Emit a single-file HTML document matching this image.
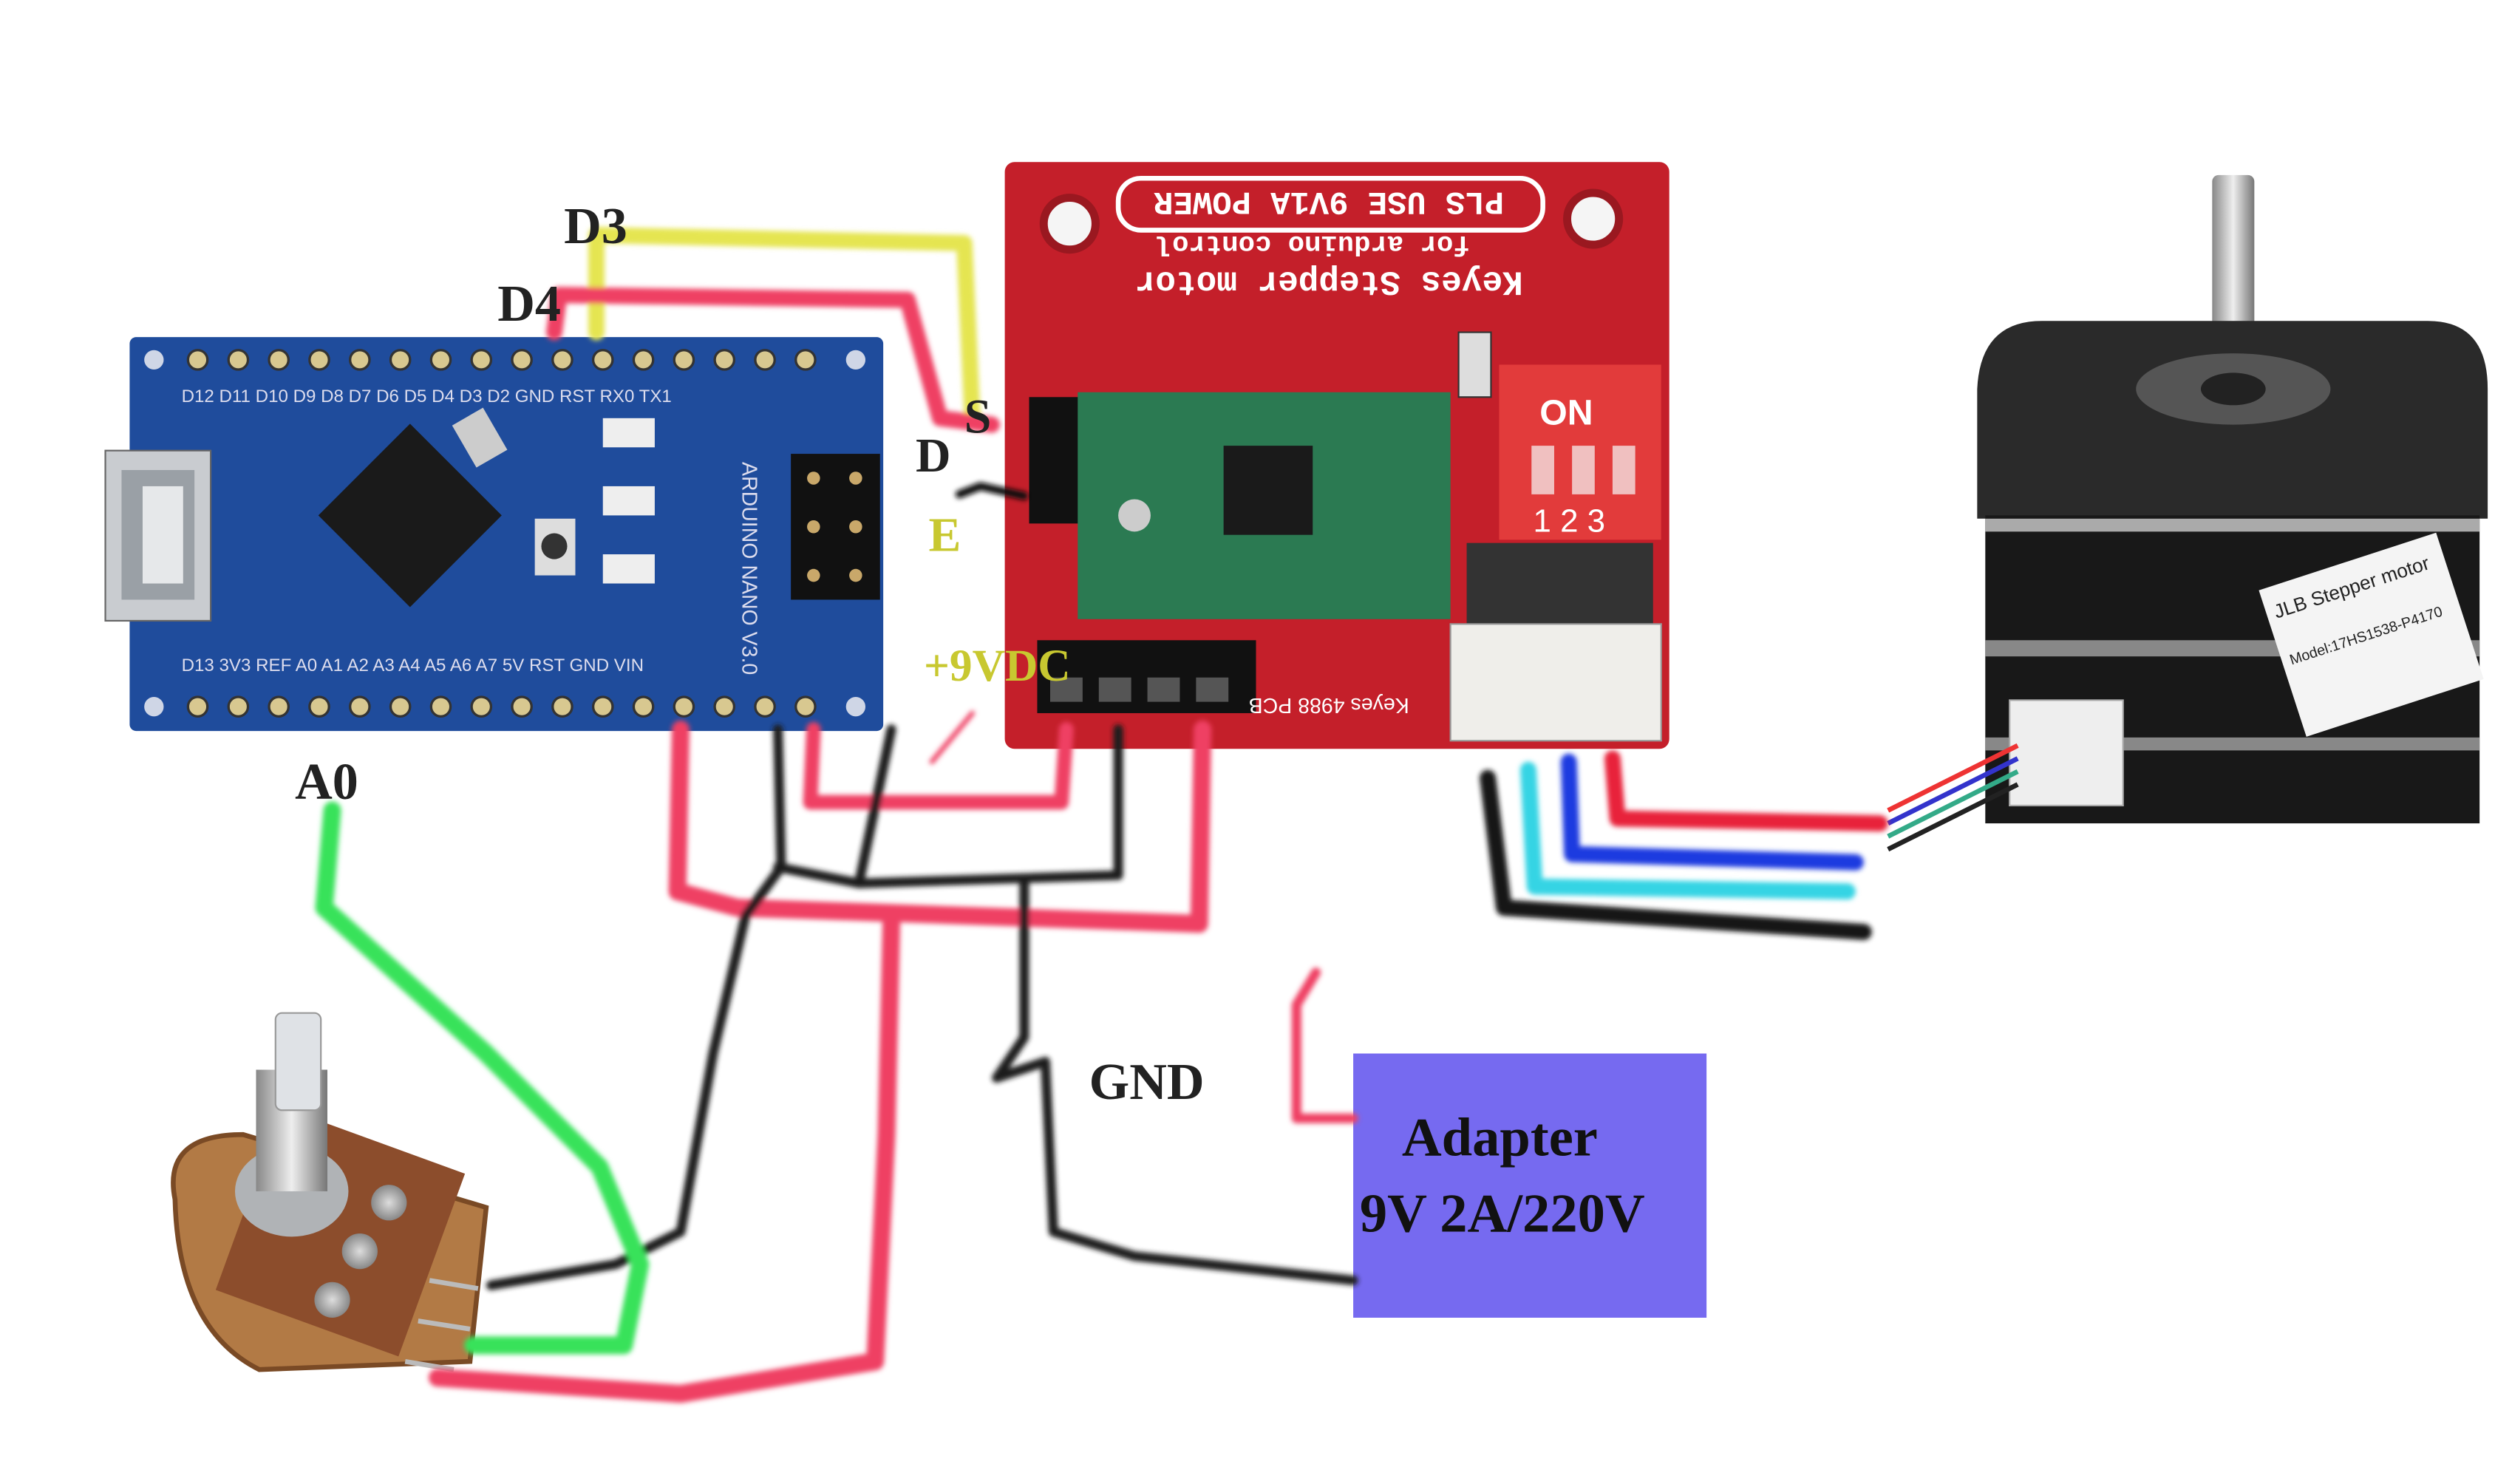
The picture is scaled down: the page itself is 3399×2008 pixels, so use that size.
<!DOCTYPE html>
<html><head><meta charset="utf-8"><style>
html,body{margin:0;padding:0;background:#fff;}
svg{display:block;}
</style></head><body>
<svg width="3399" height="2008" viewBox="0 0 1550 915.6" preserveAspectRatio="none" xmlns="http://www.w3.org/2000/svg">
<defs>
<filter id="bl" x="-10%" y="-10%" width="120%" height="120%"><feGaussianBlur stdDeviation="1.6"/></filter>
<radialGradient id="rg" cx="50%" cy="50%" r="60%"><stop offset="0" stop-color="#ddd"/><stop offset="1" stop-color="#777"/></radialGradient>
<linearGradient id="shaft" x1="0" x2="1"><stop offset="0" stop-color="#888"/><stop offset=".5" stop-color="#eee"/><stop offset="1" stop-color="#777"/></linearGradient>
</defs>
<rect width="1550" height="915.6" fill="#fff"/>

<!-- Arduino Nano -->
<rect x="80" y="208" width="465" height="243" fill="#1f4c9c" rx="4"/>
<g fill="#cfd6e6">
<circle cx="95" cy="222" r="6"/><circle cx="95" cy="436" r="6"/><circle cx="528" cy="222" r="6"/><circle cx="528" cy="436" r="6"/>
</g>
<g fill="#d8c890" stroke="#333" stroke-width="1.5">
<circle cx="122" cy="222" r="6"/><circle cx="147" cy="222" r="6"/><circle cx="172" cy="222" r="6"/><circle cx="197" cy="222" r="6"/><circle cx="222" cy="222" r="6"/><circle cx="247" cy="222" r="6"/><circle cx="272" cy="222" r="6"/><circle cx="297" cy="222" r="6"/><circle cx="322" cy="222" r="6"/><circle cx="347" cy="222" r="6"/><circle cx="372" cy="222" r="6"/><circle cx="397" cy="222" r="6"/><circle cx="422" cy="222" r="6"/><circle cx="447" cy="222" r="6"/><circle cx="472" cy="222" r="6"/><circle cx="497" cy="222" r="6"/>
<circle cx="122" cy="436" r="6"/><circle cx="147" cy="436" r="6"/><circle cx="172" cy="436" r="6"/><circle cx="197" cy="436" r="6"/><circle cx="222" cy="436" r="6"/><circle cx="247" cy="436" r="6"/><circle cx="272" cy="436" r="6"/><circle cx="297" cy="436" r="6"/><circle cx="322" cy="436" r="6"/><circle cx="347" cy="436" r="6"/><circle cx="372" cy="436" r="6"/><circle cx="397" cy="436" r="6"/><circle cx="422" cy="436" r="6"/><circle cx="447" cy="436" r="6"/><circle cx="472" cy="436" r="6"/><circle cx="497" cy="436" r="6"/>
</g>
<g font-family="Liberation Sans, sans-serif" font-size="11" fill="#dde">
<text x="112" y="248">D12 D11 D10  D9  D8  D7  D6  D5  D4  D3  D2 GND RST RX0 TX1</text>
<text x="112" y="414">D13 3V3 REF  A0  A1  A2  A3  A4  A5  A6  A7  5V  RST GND VIN</text>
</g>
<rect x="65" y="278" width="65" height="105" fill="#c9ccd0" stroke="#666"/>
<rect x="75" y="290" width="45" height="80" fill="#9aa0a6"/>
<rect x="88" y="300" width="25" height="60" fill="#e6e8ea"/>
<g transform="rotate(45 253 318)"><rect x="213" y="278" width="80" height="80" fill="#1a1a1a"/></g>
<rect x="330" y="320" width="25" height="35" fill="#ddd"/><circle cx="342" cy="337" r="8" fill="#333"/>
<rect x="285" y="255" width="22" height="30" fill="#ccc" transform="rotate(-30 296 270)"/>
<rect x="372" y="258" width="32" height="18" fill="#eee"/><rect x="372" y="300" width="32" height="18" fill="#eee"/><rect x="372" y="342" width="32" height="18" fill="#eee"/>
<rect x="488" y="280" width="55" height="90" fill="#111"/>
<g fill="#c9a86a"><circle cx="502" cy="295" r="4"/><circle cx="528" cy="295" r="4"/><circle cx="502" cy="325" r="4"/><circle cx="528" cy="325" r="4"/><circle cx="502" cy="355" r="4"/><circle cx="528" cy="355" r="4"/></g>
<text x="458" y="285" font-family="Liberation Sans, sans-serif" font-size="13" fill="#dde" transform="rotate(90 458 285)">ARDUINO NANO V3.0</text>

<!-- Keyes red board -->
<rect x="620" y="100" width="410" height="362" fill="#c41f2a" rx="6"/>
<circle cx="660" cy="138" r="16" fill="#f5f5f5" stroke="#9a1820" stroke-width="5"/>
<circle cx="983" cy="135" r="16" fill="#f5f5f5" stroke="#9a1820" stroke-width="5"/>
<rect x="690" y="110" width="262" height="32" rx="14" fill="none" stroke="#fff" stroke-width="3"/>
<g font-family="Liberation Mono, monospace" fill="#fff" font-weight="bold" text-anchor="middle">
<text x="820" y="126" font-size="20" transform="rotate(180 820 126)" dy="7">PLS USE 9V1A POWER</text>
<text x="810" y="152" font-size="17" transform="rotate(180 810 152)" dy="6">for arduino control</text>
<text x="820" y="175" font-size="21" transform="rotate(180 820 175)" dy="7">Keyes Stepper motor</text>
</g>
<rect x="635" y="245" width="32" height="78" fill="#111"/>
<rect x="665" y="242" width="230" height="140" fill="#2b7a52"/>
<rect x="755" y="275" width="55" height="55" fill="#1a1a1a"/>
<circle cx="700" cy="318" r="10" fill="#ccc"/>
<rect x="925" y="225" width="100" height="108" fill="#e23b3b"/>
<text x="950" y="262" font-family="Liberation Sans, sans-serif" font-size="22" fill="#fff" font-weight="bold">ON</text>
<rect x="945" y="275" width="14" height="30" fill="#f0c0c0"/><rect x="970" y="275" width="14" height="30" fill="#f0c0c0"/><rect x="995" y="275" width="14" height="30" fill="#f0c0c0"/>
<text x="946" y="328" font-family="Liberation Sans, sans-serif" font-size="20" fill="#fff">1 2 3</text>
<rect x="900" y="205" width="20" height="40" fill="#ddd" stroke="#333"/>
<rect x="905" y="335" width="115" height="50" fill="#333"/>
<rect x="895" y="385" width="130" height="72" fill="#efeeea" stroke="#999"/>
<rect x="640" y="395" width="135" height="45" fill="#111"/>
<g fill="#555"><rect x="648" y="418" width="20" height="15"/><rect x="678" y="418" width="20" height="15"/><rect x="708" y="418" width="20" height="15"/><rect x="738" y="418" width="20" height="15"/></g>
<text x="820" y="435" text-anchor="middle" font-family="Liberation Sans, sans-serif" font-size="13" fill="#fff" transform="rotate(180 820 435)" dy="4">Keyes 4988 PCB</text>

<!-- Stepper motor -->
<rect x="1365" y="108" width="26" height="140" fill="url(#shaft)" rx="4"/>
<path d="M1220 240 Q1222 198 1260 198 L1498 198 Q1535 198 1535 240 L1535 320 L1220 320 Z" fill="#2a2a2a"/>
<ellipse cx="1378" cy="240" rx="60" ry="22" fill="#555"/><ellipse cx="1378" cy="240" rx="20" ry="10" fill="#222"/>
<rect x="1225" y="318" width="305" height="190" fill="#181818"/>
<rect x="1225" y="320" width="305" height="8" fill="#aaa"/>
<rect x="1225" y="395" width="305" height="10" fill="#888"/>
<rect x="1225" y="455" width="305" height="8" fill="#888"/>
<g transform="rotate(-18 1460 390)"><rect x="1405" y="345" width="115" height="95" fill="#f4f4f4"/>
<text x="1410" y="365" font-family="Liberation Sans, sans-serif" font-size="12" fill="#222">JLB Stepper motor</text>
<text x="1410" y="395" font-family="Liberation Sans, sans-serif" font-size="9" fill="#222">Model:17HS1538-P4170</text></g>
<rect x="1240" y="432" width="70" height="65" fill="#eee" stroke="#aaa"/>
<g stroke-width="3" fill="none"><path d="M1165 500 L1245 460" stroke="#e33"/><path d="M1165 508 L1245 468" stroke="#33c"/><path d="M1165 516 L1245 476" stroke="#3a8"/><path d="M1165 524 L1245 484" stroke="#222"/></g>

<!-- Potentiometer -->
<path d="M108 740 Q100 700 150 700 L300 745 L290 840 L160 845 Q110 820 108 740 Z" fill="#b27a45" stroke="#7a4a25" stroke-width="3"/>
<rect x="150" y="700" width="120" height="120" fill="#8c4d2c" transform="rotate(20 210 760)"/>
<circle cx="205" cy="802" r="11" fill="url(#rg)"/><circle cx="222" cy="772" r="11" fill="url(#rg)"/><circle cx="240" cy="742" r="11" fill="url(#rg)"/>
<ellipse cx="180" cy="735" rx="35" ry="28" fill="#b0b3b6"/>
<rect x="158" y="660" width="44" height="75" fill="url(#shaft)"/>
<rect x="170" y="625" width="28" height="60" fill="#dfe2e6" stroke="#999" rx="4"/>
<g stroke="#bbb" stroke-width="3"><path d="M265 790 L295 795"/><path d="M258 815 L290 820"/><path d="M250 840 L280 845"/></g>

<!-- Adapter -->
<rect x="835" y="650" width="218" height="163" fill="#766af0"/>
<text x="865" y="713" font-family="Liberation Serif, serif" font-weight="bold" font-size="34" fill="#111">Adapter</text>
<text x="839" y="760" font-family="Liberation Serif, serif" font-weight="bold" font-size="34" fill="#111">9V 2A/220V</text>

<!-- Wires -->
<g fill="none" stroke-linecap="round" stroke-linejoin="round" filter="url(#bl)">
<path d="M368 205 L368 145 L595 150 L600 258" stroke="#e5e551" stroke-width="10"/>
<path d="M342 205 L345 182 L560 185 L580 258 L612 262" stroke="#ef3f64" stroke-width="10"/>
<path d="M592 305 L605 300 L632 306" stroke="#111" stroke-width="5"/>
<path d="M420 450 L418 550 L455 560 L740 570 L742 450" stroke="#ef3f64" stroke-width="11"/>
<path d="M502 450 L500 495 L655 495 L658 450" stroke="#ef3f64" stroke-width="9"/>
<path d="M550 570 L547 700 L540 840 L420 860 L270 850" stroke="#ef3f64" stroke-width="11"/>
<path d="M480 450 L482 535 L460 565 L440 650 L420 760 L380 780 L303 793" stroke="#1c1c1c" stroke-width="6"/>
<path d="M550 450 L530 545 L690 540 L690 450" stroke="#1c1c1c" stroke-width="6"/>
<path d="M480 535 L530 545" stroke="#1c1c1c" stroke-width="6"/>
<path d="M632 545 L632 640 L615 665 L645 655 L650 760 L700 775 L835 790" stroke="#1c1c1c" stroke-width="6"/>
<path d="M205 500 L200 560 L300 650 L370 720 L395 780 L385 830 L292 830" stroke="#38e25a" stroke-width="11"/>
<path d="M835 690 L800 690 L800 620 L812 600" stroke="#ef3f64" stroke-width="6"/>
<path d="M575 470 L600 440" stroke="#ef3f64" stroke-width="3"/>
<path d="M995 468 L998 505 L1160 508" stroke="#e8203a" stroke-width="10"/>
<path d="M968 470 L970 527 L1145 532" stroke="#1f3be0" stroke-width="10"/>
<path d="M943 475 L947 547 L1140 550" stroke="#35d4e4" stroke-width="10"/>
<path d="M918 480 L928 560 L1150 575" stroke="#151515" stroke-width="10"/>
</g>

<!-- Labels -->
<g font-family="Liberation Serif, serif" font-weight="bold">
<text x="348" y="150" font-size="32" fill="#222">D3</text>
<text x="307" y="198" font-size="32" fill="#222">D4</text>
<text x="595" y="267" font-size="30" fill="#222">S</text>
<text x="565" y="291" font-size="30" fill="#222">D</text>
<text x="573" y="340" font-size="30" fill="#c8c830">E</text>
<text x="570" y="420" font-size="28" fill="#c8c830">+9VDC</text>
<text x="182" y="493" font-size="32" fill="#222">A0</text>
<text x="672" y="678" font-size="32" fill="#222">GND</text>
</g>
</svg>
</body></html>
